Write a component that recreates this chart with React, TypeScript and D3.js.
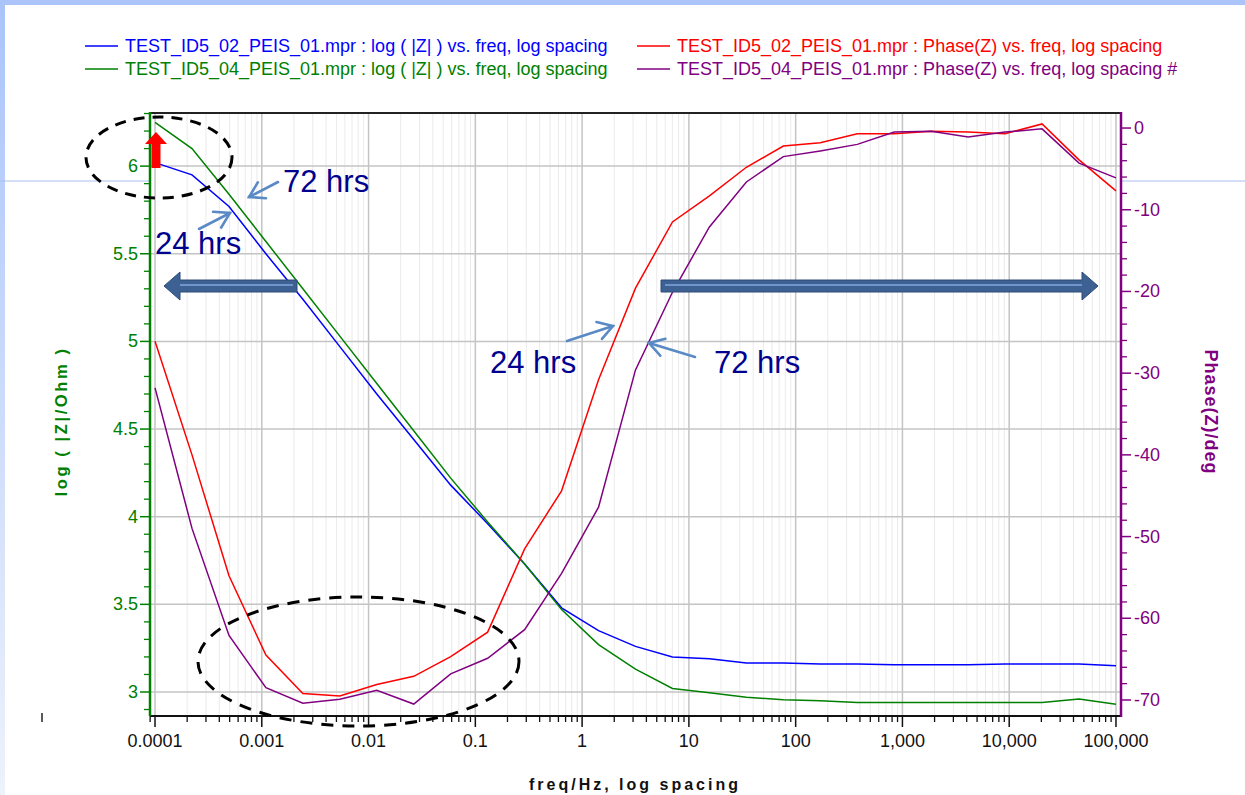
import * as d3 from "d3";

// frequencies of the sweep (Hz), 100 µHz .. 100 kHz
const freqHz = [
  0.0001, 0.000222, 0.000493, 0.001093, 0.002424, 0.005379, 0.01194, 0.02649,
  0.05878, 0.1304, 0.2894, 0.6422, 1.425, 3.162, 7.017, 15.57, 34.55, 76.66,
  170.1, 377.5, 837.7, 1859, 4125, 9153, 20310, 45070, 100000,
];

// log(|Z|) 24 hrs (blue)
const logZ02 = [
  6.02, 5.95, 5.77, 5.5, 5.24, 4.97, 4.7, 4.44, 4.18, 3.96, 3.73, 3.48, 3.35,
  3.26, 3.2, 3.19, 3.165, 3.165, 3.16, 3.16, 3.155, 3.155, 3.155, 3.16, 3.16,
  3.16, 3.15,
];
// log(|Z|) 72 hrs (green)
const logZ04 = [
  6.25, 6.1, 5.84, 5.57, 5.3, 5.03, 4.76, 4.49, 4.22, 3.97, 3.73, 3.47, 3.27,
  3.13, 3.02, 2.995, 2.97, 2.955, 2.95, 2.94, 2.94, 2.94, 2.94, 2.94, 2.94,
  2.96, 2.93,
];
// Phase(Z) 24 hrs (red)
const phase02 = [
  -26.1, -40.0, -54.8, -64.5, -69.2, -69.5, -68.1, -67.1, -64.7, -61.7, -51.5,
  -44.4, -30.8, -19.6, -11.5, -8.3, -4.8, -2.2, -1.8, -0.7, -0.7, -0.4, -0.5,
  -0.7, 0.5, -3.9, -7.7,
];
// Phase(Z) 72 hrs (purple)
const phase04 = [
  -31.8, -49.0, -62.1, -68.5, -70.4, -69.9, -68.8, -70.5, -66.8, -64.9, -61.4,
  -54.5, -46.4, -29.6, -20.1, -12.1, -6.6, -3.5, -2.8, -2.0, -0.5, -0.4, -1.1,
  -0.5, -0.1, -4.3, -6.1,
];

const xTickValues = [0.0001, 0.001, 0.01, 0.1, 1, 10, 100, 1000, 10000, 100000];
const xTickLabels = ["0.0001", "0.001", "0.01", "0.1", "1", "10", "100", "1,000", "10,000", "100,000"];
const leftTicks = [3, 3.5, 4, 4.5, 5, 5.5, 6];
const leftTickLabels = ["3", "3.5", "4", "4.5", "5", "5.5", "6"];
const rightTicks = [0, -10, -20, -30, -40, -50, -60, -70];
const rightTickLabels = ["0", "-10", "-20", "-30", "-40", "-50", "-60", "-70"];

const legendItems = [
  { label: "TEST_ID5_02_PEIS_01.mpr : log ( |Z| ) vs. freq, log spacing", color: "#0000ff", col: 0, row: 0 },
  { label: "TEST_ID5_04_PEIS_01.mpr : log ( |Z| ) vs. freq, log spacing", color: "#008000", col: 0, row: 1 },
  { label: "TEST_ID5_02_PEIS_01.mpr : Phase(Z) vs. freq, log spacing", color: "#ff0000", col: 1, row: 0 },
  { label: "TEST_ID5_04_PEIS_01.mpr : Phase(Z) vs. freq, log spacing #", color: "#800080", col: 1, row: 1 },
];

const W = 1245;
const H = 795;
const FONT = "'Liberation Sans', Arial, sans-serif";

const left = 150;
const right = 1121;
const top = 113;
const bottom = 716;

const x = d3.scaleLog().domain([Math.pow(10, -4.047), Math.pow(10, 5.047)]).range([left, right]);
const yL = d3.scaleLinear().domain([2.863, 6.303]).range([bottom, top]);
const yR = d3.scaleLinear().domain([-71.96, 1.84]).range([bottom, top]);

const lineL = d3
  .line<number>()
  .x((_, i) => x(freqHz[i]))
  .y((d) => yL(d));
const lineR = d3
  .line<number>()
  .x((_, i) => x(freqHz[i]))
  .y((d) => yR(d));

// minor ticks / grid positions
const minorX: number[] = [];
for (let e = -5; e <= 5; e++) {
  for (let m = 2; m <= 9; m++) {
    const v = m * Math.pow(10, e);
    if (x(v) >= left && x(v) <= right) minorX.push(v);
  }
}
const minorL = d3.range(29, 64).map((d) => d / 10).filter((d) => !leftTicks.includes(d));
const minorR = d3.range(-70, 1, 2).filter((d) => d % 10 !== 0);

const arrowHead = (x1: number, y1: number, x2: number, y2: number, len = 17, ang = 0.55) => {
  const a = Math.atan2(y1 - y2, x1 - x2);
  return `M${x2 + len * Math.cos(a + ang)},${y2 + len * Math.sin(a + ang)}L${x2},${y2}L${x2 + len * Math.cos(a - ang)},${y2 + len * Math.sin(a - ang)}`;
};

const Callout = ({ x1, y1, x2, y2 }: { x1: number; y1: number; x2: number; y2: number }) => (
  <g stroke="#5a8ac6" strokeWidth={2.6} fill="none" strokeLinecap="round">
    <line x1={x1} y1={y1} x2={x2} y2={y2} />
    <path d={arrowHead(x1, y1, x2, y2)} />
  </g>
);

const BlockArrow = ({ x0, x1, yc, dir }: { x0: number; x1: number; yc: number; dir: number }) => {
  // x0 = tail, x1 = tip
  const hl = 16 * dir;
  const d = `M${x1},${yc} L${x1 - hl},${yc - 14} L${x1 - hl},${yc - 6} L${x0},${yc - 6} L${x0},${yc + 6} L${x1 - hl},${yc + 6} L${x1 - hl},${yc + 14} Z`;
  return (
    <g>
      <path d={d} fill="#3d6192" stroke="#2e4d78" strokeWidth={1} />
      <line x1={x0 + 4 * dir} y1={yc - 1} x2={x1 - hl} y2={yc - 1} stroke="#6f95cb" strokeWidth={2} />
    </g>
  );
};

export default function App() {
  return (
    <svg
      width={W}
      height={H}
      style={{ position: "absolute", left: 0, top: 0, background: "#fff" }}
      fontFamily={FONT}
    >
      <defs>
        <linearGradient id="leftBand" x1="0" y1="0" x2="0" y2="1">
          <stop offset="0" stopColor="#aac4fa" />
          <stop offset="1" stopColor="#edf2fb" />
        </linearGradient>
      </defs>
      <rect x={0} y={0} width={W} height={H} fill="#fff" />
      <rect x={0} y={0} width={W} height={5} fill="#abc5fa" />
      <rect x={0} y={0} width={5} height={H} fill="url(#leftBand)" />
      <line x1={0} x2={left} y1={181} y2={181} stroke="#a9bff0" strokeWidth={1} />
      <line x1={right} x2={W} y1={181} y2={181} stroke="#a9bff0" strokeWidth={1} />
      <line x1={42} x2={42} y1={713} y2={722} stroke="#222" strokeWidth={1.5} />

      {/* legend */}
      {legendItems.map((it, i) => {
        const lx = it.col === 0 ? 85 : 637;
        const ly = 46 + it.row * 23;
        return (
          <g key={i}>
            <line x1={lx} x2={lx + 33} y1={ly} y2={ly} stroke={it.color} strokeWidth={1.5} />
            <text x={lx + 40} y={ly + 6} fontSize={18} fill={it.color}>
              {it.label}
            </text>
          </g>
        );
      })}

      {/* grid */}
      {minorX.map((v, i) => (
        <line key={"mx" + i} x1={x(v)} x2={x(v)} y1={top} y2={bottom} stroke="#ebebeb" strokeWidth={1} />
      ))}
      {xTickValues.map((v, i) => (
        <line key={"gx" + i} x1={x(v)} x2={x(v)} y1={top} y2={bottom} stroke="#c4c4c4" strokeWidth={1.5} />
      ))}
      {leftTicks.map((v, i) => (
        <line key={"gy" + i} x1={left} x2={right} y1={yL(v)} y2={yL(v)} stroke="#c4c4c4" strokeWidth={1.5} />
      ))}

      {/* series */}
      <path d={lineL(logZ02) ?? ""} fill="none" stroke="#0000ff" strokeWidth={1.5} />
      <path d={lineL(logZ04) ?? ""} fill="none" stroke="#008000" strokeWidth={1.5} />
      <path d={lineR(phase02) ?? ""} fill="none" stroke="#ff0000" strokeWidth={1.5} />
      <path d={lineR(phase04) ?? ""} fill="none" stroke="#800080" strokeWidth={1.5} />

      {/* frame */}
      <line x1={left} x2={right} y1={top} y2={top} stroke="#222" strokeWidth={2} />
      <line x1={left} x2={right + 1} y1={bottom} y2={bottom} stroke="#111" strokeWidth={2} />

      {/* x axis ticks */}
      {minorX.map((v, i) => (
        <line key={"tx" + i} x1={x(v)} x2={x(v)} y1={bottom} y2={bottom + 6} stroke="#111" strokeWidth={1.3} />
      ))}
      {xTickValues.map((v, i) => (
        <g key={"xt" + i}>
          <line x1={x(v)} x2={x(v)} y1={bottom} y2={bottom + 11} stroke="#111" strokeWidth={1.5} />
          <text x={x(v)} y={bottom + 31} fontSize={18} textAnchor="middle" fill="#111">
            {xTickLabels[i]}
          </text>
        </g>
      ))}

      {/* left axis */}
      <line x1={left} x2={left} y1={top - 1} y2={bottom} stroke="#008000" strokeWidth={2.5} />
      {minorL.map((v, i) => (
        <line key={"ml" + i} x1={left - 6} x2={left} y1={yL(v)} y2={yL(v)} stroke="#008000" strokeWidth={1.3} />
      ))}
      {leftTicks.map((v, i) => (
        <g key={"lt" + i}>
          <line x1={left - 10} x2={left} y1={yL(v)} y2={yL(v)} stroke="#008000" strokeWidth={1.5} />
          <text x={left - 12} y={yL(v) + 6} fontSize={18} textAnchor="end" fill="#008000">
            {leftTickLabels[i]}
          </text>
        </g>
      ))}
      <text
        transform={`translate(67,${(top + bottom) / 2 + 7}) rotate(-90)`}
        textAnchor="middle"
        fontSize={16.5}
        fontWeight="bold"
        letterSpacing={2.6}
        fill="#008000"
      >
        log ( |Z|/Ohm )
      </text>

      {/* right axis */}
      <line x1={right} x2={right} y1={top - 1} y2={bottom + 1} stroke="#800080" strokeWidth={2.5} />
      {minorR.map((v, i) => (
        <line key={"mr" + i} x1={right} x2={right + 6} y1={yR(v)} y2={yR(v)} stroke="#800080" strokeWidth={1.3} />
      ))}
      {rightTicks.map((v, i) => (
        <g key={"rt" + i}>
          <line x1={right} x2={right + 10} y1={yR(v)} y2={yR(v)} stroke="#800080" strokeWidth={1.5} />
          <text x={right + 13} y={yR(v) + 6} fontSize={18} fill="#800080">
            {rightTickLabels[i]}
          </text>
        </g>
      ))}
      <text
        transform={`translate(1205,412) rotate(90)`}
        textAnchor="middle"
        fontSize={18}
        fontWeight="bold"
        letterSpacing={1}
        fill="#800080"
      >
        Phase(Z)/deg
      </text>

      <text x={635} y={790} textAnchor="middle" fontSize={16} fontWeight="bold" letterSpacing={3} fill="#111">
        freq/Hz, log spacing
      </text>

      {/* annotations */}
      <ellipse cx={159} cy={157.5} rx={73} ry={40.5} fill="none" stroke="#000" strokeWidth={3} strokeDasharray="11 8" />
      <ellipse cx={358.5} cy={661.5} rx={160.5} ry={64.5} fill="none" stroke="#000" strokeWidth={3} strokeDasharray="12 9" />
      <path d="M156,132 L167,144 L160.5,144 L160.5,168 L151.5,168 L151.5,144 L145,144 Z" fill="#ff0000" />

      <BlockArrow x0={297} x1={164} yc={286} dir={-1} />
      <BlockArrow x0={661} x1={1098} yc={286} dir={1} />

      <Callout x1={278} y1={182} x2={249} y2={197} />
      <Callout x1={199} y1={229} x2={230} y2={213} />
      <Callout x1={567} y1={341} x2={613} y2={326} />
      <Callout x1={695} y1={357} x2={649} y2={343} />

      <g fontSize={31} fill="#00008f">
        <text x={283} y={192}>72 hrs</text>
        <text x={155} y={254}>24 hrs</text>
        <text x={490} y={373}>24 hrs</text>
        <text x={714} y={373}>72 hrs</text>
      </g>
    </svg>
  );
}
